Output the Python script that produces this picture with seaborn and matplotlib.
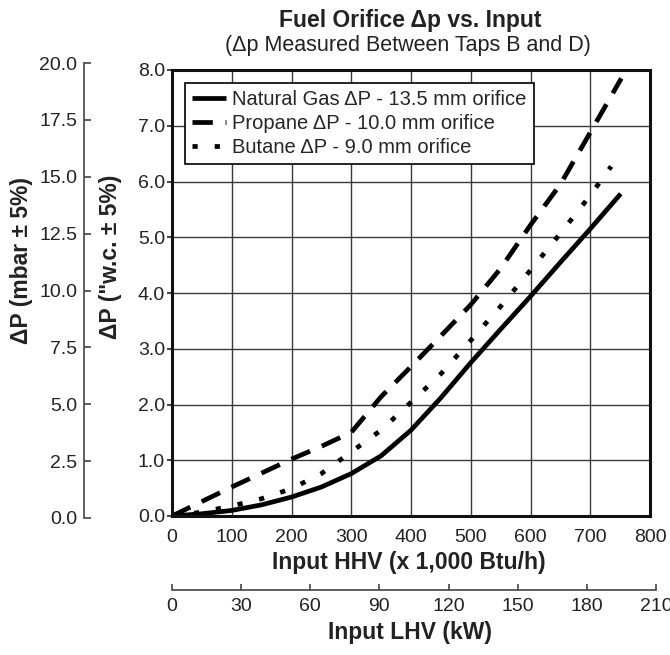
import numpy as np
import pandas as pd
import matplotlib.pyplot as plt
import seaborn as sns

# input HHV (x 1,000 Btu/h) and delta p ("w.c.)
hhv = [0, 50, 100, 150, 200, 250, 300, 350, 400, 450, 500, 550, 600, 650, 700, 751]
ng_dp = [0, 0.04, 0.10, 0.20, 0.34, 0.52, 0.76, 1.08, 1.54, 2.12, 2.75, 3.35, 3.94, 4.55, 5.15, 5.78]
propane_hhv = [0, 50, 100, 150, 200, 250, 300, 350, 400, 450, 500, 550, 600, 650, 700, 752]
propane_dp = [0, 0.26, 0.52, 0.77, 1.02, 1.25, 1.50, 2.14, 2.68, 3.23, 3.79, 4.44, 5.22, 5.95, 6.88, 7.85]
butane_hhv = [0, 50, 100, 150, 200, 250, 300, 350, 400, 450, 500, 550, 600, 650, 700, 735]
butane_dp = [0, 0.07, 0.18, 0.31, 0.49, 0.76, 1.15, 1.54, 2.04, 2.55, 3.15, 3.76, 4.41, 5.07, 5.75, 6.27]

labels = ['Natural Gas \u0394P - 13.5 mm orifice',
          'Propane \u0394P - 10.0 mm orifice',
          'Butane \u0394P - 9.0 mm orifice']

hhv_ticks = [0, 100, 200, 300, 400, 500, 600, 700, 800]
wc_ticks = [0, 1, 2, 3, 4, 5, 6, 7, 8]
mbar_ticks = [0, 2.5, 5, 7.5, 10, 12.5, 15, 17.5, 20]
kw_ticks = [0, 30, 60, 90, 120, 150, 180, 210]

sns.set_style('white')
plt.rcParams['font.family'] = ['Liberation Sans', 'DejaVu Sans']

W, H = 670, 655
fig = plt.figure(figsize=(6.7, 6.55), dpi=100)

# main plot
ax = fig.add_axes([172 / W, (H - 516) / H, 478 / W, 446 / H])
sns.lineplot(x=hhv, y=ng_dp, ax=ax, color='k', lw=3.4, solid_capstyle='butt', label=labels[0])
sns.lineplot(x=propane_hhv, y=propane_dp, ax=ax, color='k', lw=3.4,
             linestyle=(0, (4.3, 2.7)), dash_capstyle='butt', label=labels[1])
sns.lineplot(x=butane_hhv, y=butane_dp, ax=ax, color='k', lw=3.4,
             linestyle=(0, (1.1, 3.6)), dash_capstyle='butt', label=labels[2])

ax.set_xlim(0, 800)
ax.set_ylim(0, 8)
ax.set_xticks(hhv_ticks)
ax.set_xticklabels([str(t) for t in hhv_ticks])
ax.set_yticks(wc_ticks)
ax.set_yticklabels(['%.1f' % t for t in wc_ticks])
ax.grid(True, color='#3a3a3a', lw=1.0)
ax.set_axisbelow(True)
for s in ax.spines.values():
    s.set_linewidth(2.2)
    s.set_color('#111111')
ax.tick_params(axis='x', length=0, pad=9, labelsize=14, colors='#222222')
ax.tick_params(axis='y', length=3.6, width=1.2, pad=1.5, direction='out', labelsize=14,
               colors='#222222', left=True)
ax.set_xlabel('')
ax.set_ylabel('')

leg = ax.legend(loc='upper left', bbox_to_anchor=(13 / 478, 1 - 13 / 446), borderaxespad=0,
                fontsize=14.5, handlelength=1.7, handletextpad=0.3, labelspacing=0.25,
                borderpad=0.35, frameon=True, fancybox=False, edgecolor='k', framealpha=1)
leg.get_frame().set_linewidth(1.2)

# mbar axis on the far left
axm = fig.add_axes([84 / W, (H - 518) / H, 0.02, 455 / H])
axm.patch.set_visible(False)
for k in ['right', 'top', 'bottom']:
    axm.spines[k].set_visible(False)
axm.spines['left'].set_linewidth(1.2)
axm.spines['left'].set_color('#444444')
axm.set_ylim(0, 20)
axm.set_yticks(mbar_ticks)
axm.set_yticklabels(['%.1f' % t for t in mbar_ticks])
axm.set_xticks([])
axm.tick_params(axis='y', direction='in', length=5, width=1.2, pad=5, labelsize=14,
                colors='#444444', labelcolor='#222222', left=True)

# kW axis at the bottom
axk = fig.add_axes([172 / W, (H - 590) / H, 484 / W, 0.001])
axk.patch.set_visible(False)
for k in ['left', 'right', 'top']:
    axk.spines[k].set_visible(False)
axk.spines['bottom'].set_linewidth(1.2)
axk.spines['bottom'].set_color('#444444')
axk.set_xlim(0, 210)
axk.set_xticks(kw_ticks)
axk.set_xticklabels([str(t) for t in kw_ticks])
axk.set_yticks([])
axk.tick_params(axis='x', direction='in', length=4.5, width=1.2, pad=6, labelsize=14,
                colors='#444444', labelcolor='#222222', bottom=True)

# titles and axis labels
fig.text(410 / W, 1 - 21 / H, 'Fuel Orifice \u0394p vs. Input', ha='center', va='center',
         fontsize=16.5, fontweight='bold', color='#222222')
fig.text(408 / W, 1 - 46 / H, '(\u0394p Measured Between Taps B and D)', ha='center',
         va='center', fontsize=15.5, color='#222222')
fig.text(409 / W, 1 - 563 / H, 'Input HHV (x 1,000 Btu/h)', ha='center', va='center',
         fontsize=16.5, fontweight='bold', color='#222222')
fig.text(410 / W, 1 - 633 / H, 'Input LHV (kW)', ha='center', va='center',
         fontsize=16.5, fontweight='bold', color='#222222')
fig.text(111 / W, 1 - 257 / H, '\u0394P ("w.c. \u00b1 5%)', ha='center', va='center',
         rotation=90, fontsize=16.5, fontweight='bold', color='#222222')
fig.text(22 / W, 1 - 260 / H, '\u0394P (mbar \u00b1 5%)', ha='center', va='center',
         rotation=90, fontsize=16.5, fontweight='bold', color='#222222')

fig.savefig('out.png', dpi=100)
